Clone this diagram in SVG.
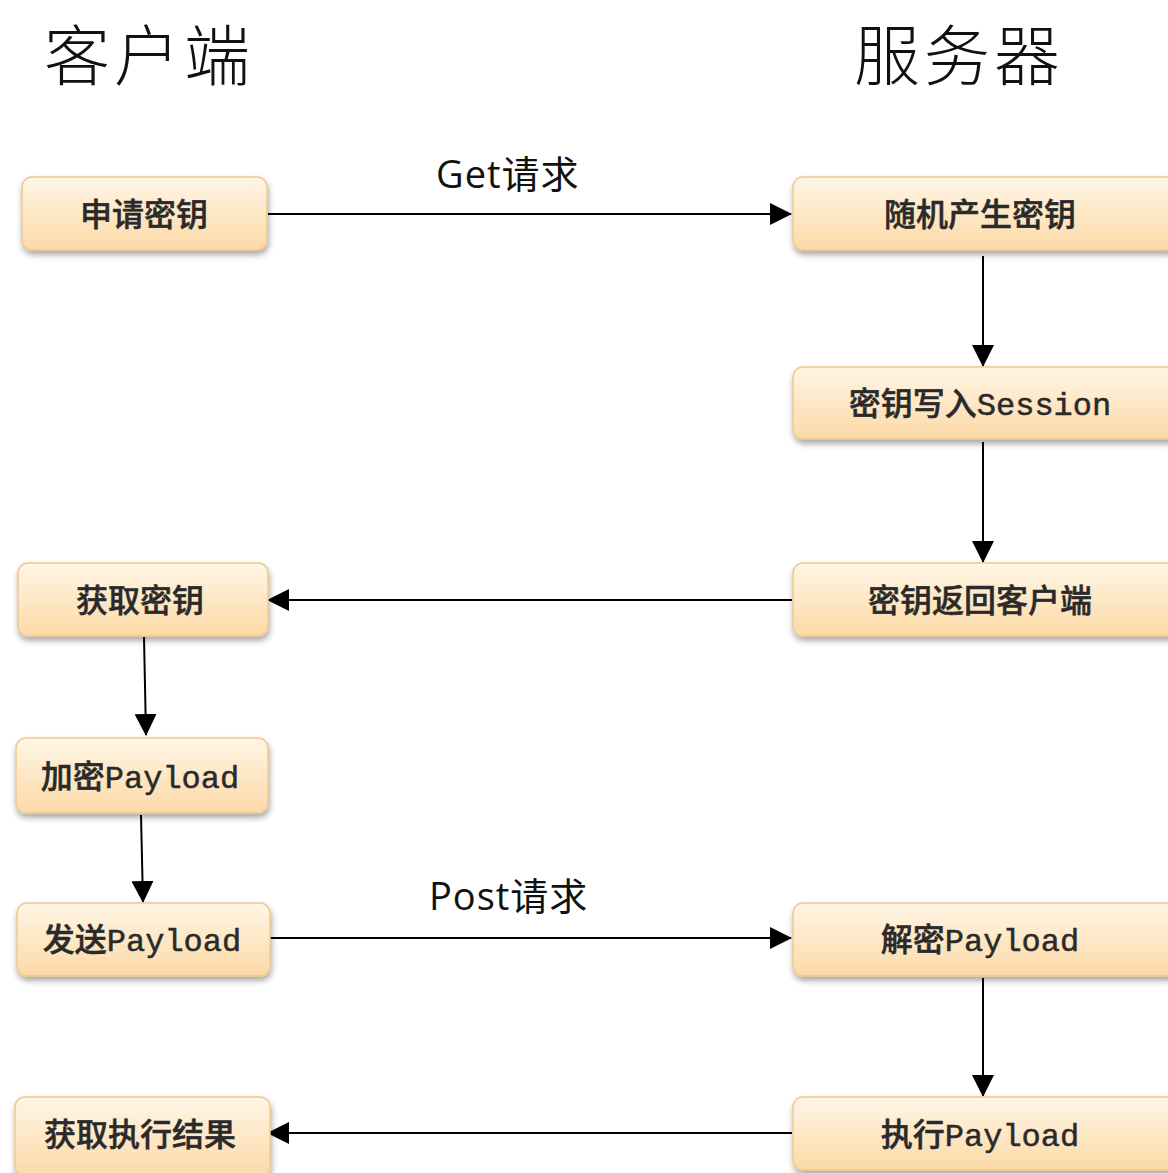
<svg xmlns="http://www.w3.org/2000/svg" width="1168" height="1173" viewBox="0 0 1168 1173">
<defs>
<linearGradient id="g" x1="0" y1="0" x2="0" y2="1">
<stop offset="0" stop-color="#fff6e6"/>
<stop offset="1" stop-color="#fcd9a6"/>
</linearGradient>
<filter id="sh" x="-10%" y="-20%" width="120%" height="150%">
<feGaussianBlur in="SourceAlpha" stdDeviation="3"/>
<feOffset dx="1" dy="4"/>
<feComponentTransfer><feFuncA type="linear" slope="0.35"/></feComponentTransfer>
<feMerge><feMergeNode/><feMergeNode in="SourceGraphic"/></feMerge>
</filter>
<marker id="ahb" markerWidth="22" markerHeight="22" refX="21" refY="11" orient="auto" markerUnits="userSpaceOnUse" viewBox="0 0 22 22">
<path d="M0,0 L22,11 L0,22 z" fill="#000"/>
</marker>
</defs>
<style>
.box{fill:url(#g);stroke:#f0c890;stroke-width:1.5;filter:url(#sh)}
.t{font-family:"Liberation Mono","Noto Sans CJK SC",monospace;font-size:32px;fill:#2a2a2a;text-anchor:middle;font-weight:500;stroke:#2a2a2a;stroke-width:0.5}
.title{font-family:"Noto Sans CJK SC",sans-serif;font-weight:300;font-size:66px;fill:#111;letter-spacing:4px}
.lbl{font-family:"Open Sans","Noto Sans CJK SC",sans-serif;font-size:38px;fill:#111;letter-spacing:1px}
.c{stroke:#000;stroke-width:2;fill:none;marker-end:url(#ahb)}
</style>
<rect width="1168" height="1173" fill="#fff"/>
<text class="title" x="44" y="80">客户端</text>
<text class="title" x="854" y="80">服务器</text>
<g id="connectors">
<line class="c" x1="268" y1="214" x2="791" y2="214"/>
<line class="c" x1="983" y1="256" x2="983" y2="366"/>
<line class="c" x1="983" y1="442" x2="983" y2="562"/>
<line class="c" x1="792" y1="600" x2="268" y2="600"/>
<line class="c" x1="144" y1="637" x2="146" y2="735"/>
<line class="c" x1="141" y1="815" x2="143" y2="902"/>
<line class="c" x1="270" y1="938" x2="791" y2="938"/>
<line class="c" x1="983" y1="978" x2="983" y2="1096"/>
<line class="c" x1="792" y1="1133" x2="268" y2="1133"/>
<text class="lbl" x="436" y="188">Get请求</text>
<text class="lbl" x="429" y="910">Post请求</text>
</g>
<g id="n1"><rect class="box" x="22" y="177" width="245" height="73" rx="10"/><text class="t" x="144" y="226">申请密钥</text></g>
<g id="n2"><rect class="box" x="793" y="177" width="385" height="73" rx="10"/><text class="t" x="980" y="226">随机产生密钥</text></g>
<g id="n3"><rect class="box" x="793" y="367" width="385" height="72" rx="10"/><text class="t" x="980" y="415">密钥写入Session</text></g>
<g id="n4"><rect class="box" x="18" y="563" width="250" height="73" rx="10"/><text class="t" x="140" y="612">获取密钥</text></g>
<g id="n5"><rect class="box" x="793" y="563" width="385" height="73" rx="10"/><text class="t" x="980" y="612">密钥返回客户端</text></g>
<g id="n6"><rect class="box" x="16" y="738" width="252" height="75" rx="10"/><text class="t" x="140" y="788">加密Payload</text></g>
<g id="n7"><rect class="box" x="17" y="903" width="253" height="73" rx="10"/><text class="t" x="142" y="951">发送Payload</text></g>
<g id="n8"><rect class="box" x="793" y="903" width="385" height="73" rx="10"/><text class="t" x="980" y="951">解密Payload</text></g>
<g id="n9"><rect class="box" x="15" y="1097" width="255" height="80" rx="10"/><text class="t" x="140" y="1146">获取执行结果</text></g>
<g id="n10"><rect class="box" x="793" y="1097" width="385" height="73" rx="10"/><text class="t" x="980" y="1146">执行Payload</text></g>
</svg>
